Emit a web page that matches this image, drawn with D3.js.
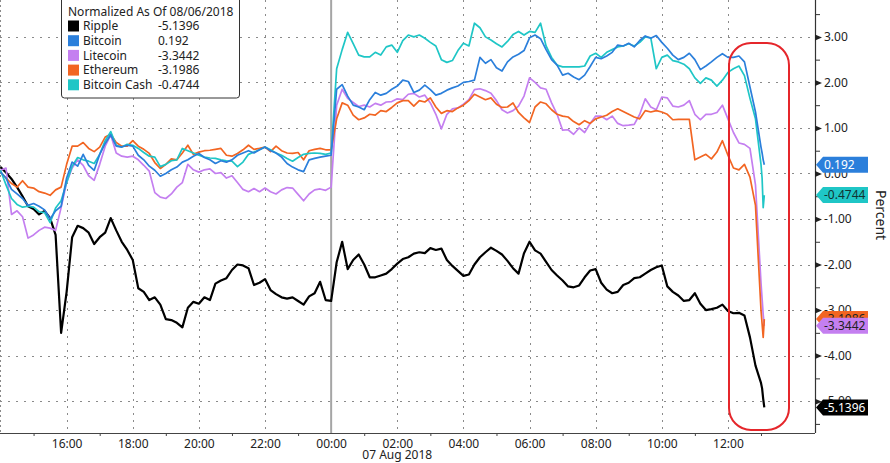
<!DOCTYPE html>
<html><head><meta charset="utf-8">
<script src="https://cdn.jsdelivr.net/npm/d3@7"></script>
<style>
body{margin:0;background:#fff;}
svg{display:block;font-family:"Noto Sans",sans-serif;}
</style></head><body>
<svg id="c" width="890" height="463"></svg>
<script>
// ---------- DATA ----------
const legendTitle = "Normalized As Of 08/06/2018";
const dateLabel = "07 Aug 2018";
const axisTitle = "Percent";
const seriesNames = ["Ripple", "Bitcoin", "Litecoin", "Ethereum", "Bitcoin Cash"];
const seriesColors = ["#000000", "#2b7fdb", "#c47ff0", "#f26522", "#1fc6c6"];
const flagTextColors = ["#ffffff", "#ffffff", "#222222", "#222222", "#123333"];
// 10-minute grid from 06 Aug 2018 14:00 through 07 Aug 2018 13:00, then final prints
const gridStart = "2018-08-06T14:00";
const gridStepMinutes = 10;
const tailTimes = ["2018-08-07T13:02", "2018-08-07T13:04", "2018-08-07T13:06"];
const xTickLabels = ["16:00","18:00","20:00","22:00","00:00","02:00","04:00","06:00","08:00","10:00","12:00"];
const yTickValues = [3, 2, 1, 0, -1, -2, -3, -4, -5];

const ripple = [
 0.14, 0.02, -0.12, -0.3, -0.5, -0.72, -0.78, -0.9, -0.82, -0.98,
 -1.35, -3.5, -2.6, -1.4, -1.15, -1.2, -1.3, -1.55, -1.4, -1.3,
 -0.98, -1.25, -1.5, -1.68, -1.9, -2.52, -2.6, -2.78, -2.72, -2.88,
 -3.2, -3.22, -3.28, -3.38, -2.95, -2.82, -2.86, -2.72, -2.78, -2.42,
 -2.35, -2.3, -2.12, -2.0, -2.02, -2.08, -2.45, -2.4, -2.32, -2.56,
 -2.65, -2.72, -2.75, -2.72, -2.8, -2.88, -2.7, -2.63, -2.38, -2.78,
 -2.8, -1.95, -1.5, -2.1, -1.9, -1.78, -2.0, -2.28, -2.28, -2.24,
 -2.2, -2.1, -1.98, -1.88, -1.84, -1.76, -1.73, -1.75, -1.64, -1.68,
 -1.65, -1.9, -2.03, -2.14, -2.25, -2.22, -2.0, -1.84, -1.73, -1.63,
 -1.7, -1.78, -1.92, -2.08, -2.2, -1.75, -1.5, -1.69, -1.76, -1.94,
 -2.12, -2.24, -2.35, -2.48, -2.5, -2.46, -2.28, -2.13, -2.1, -2.4,
 -2.55, -2.63, -2.6, -2.45, -2.4, -2.3, -2.28, -2.2, -2.12, -2.06,
 -2.02, -2.48, -2.6, -2.68, -2.8, -2.78, -2.63, -2.86, -3.0, -2.98,
 -2.95, -2.88, -3.02, -3.07, -3.06, -3.12, -3.6, -4.22, -4.6
];
const rippleTail = [-4.72, -4.95, -5.1396];

const bitcoin = [
 0.03, -0.1, -0.35, -0.45, -0.55, -0.7, -0.66, -0.72, -0.8, -1.0,
 -0.82, -0.72, -0.1, 0.25, 0.16, 0.42, 0.18, 0.07, 0.42, 0.66,
 0.85, 0.6, 0.58, 0.62, 0.6, 0.4, 0.3, 0.16, 0.07, -0.06,
 0.0, 0.08, 0.14, 0.25, 0.3, 0.38, 0.44, 0.35, 0.3, 0.22,
 0.28, 0.25, 0.3, 0.4, 0.45, 0.5, 0.45, 0.52, 0.58, 0.5,
 0.45, 0.36, 0.22, 0.14, 0.08, 0.04, 0.3, 0.33, 0.36, 0.38,
 0.4, 1.85, 1.95, 1.7, 1.5, 1.46, 1.4, 1.62, 1.78, 1.72,
 1.76, 1.85, 1.92, 2.05, 2.02, 1.78, 1.83, 1.94, 1.84, 1.72,
 1.76, 1.83, 1.88, 1.92, 2.0, 2.02, 2.05, 2.55, 2.42, 2.5,
 2.32, 2.25, 2.45, 2.56, 2.62, 2.7, 2.98, 3.04, 2.96, 2.72,
 2.5, 2.38, 2.16, 2.2, 2.12, 2.06, 2.16, 2.35, 2.55, 2.52,
 2.58, 2.66, 2.82, 2.8, 2.86, 2.78, 2.92, 3.02, 2.97, 3.03,
 2.88, 2.75, 2.6, 2.5, 2.55, 2.64, 2.5, 2.28, 2.36, 2.45,
 2.55, 2.63, 2.55, 2.55, 2.58, 2.45, 1.9, 1.35, 0.58
];
const bitcoinTail = [0.45, 0.3, 0.192];

const litecoin = [
 0.07, 0.12, -0.9, -0.82, -0.95, -1.42, -1.35, -1.25, -1.18, -1.2,
 -1.25, -0.75, -0.2, 0.12, 0.3, 0.18, -0.05, -0.15, 0.2, 0.6,
 0.85, 0.45, 0.38, 0.36, 0.38, 0.3, 0.18, 0.05, -0.42, -0.52,
 -0.55, -0.45, -0.3, -0.2, 0.2, 0.08, 0.03, 0.08, 0.1, 0.0,
 0.02, -0.1, -0.05, -0.2, -0.35, -0.4, -0.33, -0.4, -0.32, -0.4,
 -0.45, -0.36, -0.31, -0.32, -0.46, -0.6, -0.45, -0.36, -0.34, -0.37,
 -0.3, 1.5, 1.85, 1.65, 1.56, 1.47, 1.5, 1.46, 1.54, 1.5,
 1.57, 1.58, 1.64, 1.62, 1.74, 1.76, 1.68, 1.72, 1.55, 1.3,
 0.98, 1.3, 1.42, 1.44, 1.52, 1.62, 1.84, 1.86, 1.82, 1.76,
 1.6, 1.4, 1.33, 1.38, 1.48, 1.7, 2.1, 2.0, 1.88, 1.85,
 1.55, 1.3, 0.95, 0.96, 0.86, 1.0, 0.9, 1.1, 1.26, 1.26,
 1.18, 1.26, 1.1, 1.05, 1.06, 1.08, 1.3, 1.64, 1.46, 1.4,
 1.68, 1.66, 1.48, 1.46, 1.5, 1.6, 1.3, 1.18, 1.3, 1.3,
 1.34, 1.5, 1.2, 0.9, 0.67, 0.64, 0.55, -0.25, -2.4
];
const litecoinTail = [-2.75, -3.1, -3.3442];

const ethereum = [
 0.03, -0.1, -0.22, -0.3, -0.16, -0.3, -0.32, -0.4, -0.43, -0.48,
 -0.36, -0.3, 0.2, 0.6, 0.6, 0.68, 0.55, 0.48, 0.58, 0.8,
 0.86, 0.68, 0.6, 0.6, 0.72, 0.6, 0.53, 0.44, 0.24, 0.11,
 0.2, 0.32, 0.3, 0.45, 0.62, 0.42, 0.47, 0.5, 0.51, 0.53,
 0.55, 0.4, 0.38, 0.44, 0.52, 0.62, 0.53, 0.55, 0.58, 0.48,
 0.6, 0.5, 0.45, 0.44, 0.46, 0.3, 0.5, 0.53, 0.55, 0.52,
 0.52, 1.2, 1.55, 1.5, 1.28, 1.18, 1.22, 1.3, 1.28, 1.38,
 1.36, 1.45, 1.55, 1.6, 1.6, 1.48, 1.6, 1.57, 1.66, 1.46,
 1.32, 1.38, 1.36, 1.44, 1.5, 1.6, 1.74, 1.68, 1.62, 1.66,
 1.52, 1.45, 1.46, 1.55, 1.34, 1.22, 1.12, 1.46, 1.57, 1.53,
 1.4, 1.3, 1.26, 1.24, 1.14, 1.07, 1.16, 1.1, 1.2, 1.24,
 1.28, 1.36, 1.42, 1.36, 1.3, 1.24, 1.2, 1.38, 1.35, 1.38,
 1.35, 1.3, 1.18, 1.19, 1.19, 1.19, 0.3, 0.36, 0.42, 0.32,
 0.47, 0.72, 0.4, 0.12, 0.08, 0.2, -0.08, -0.7, -3.0
];
const ethereumTail = [-3.3, -3.6, -3.1986];

const bitcoinCash = [
 0.07, -0.25, -0.55, -0.68, -0.74, -0.72, -0.74, -0.84, -0.86, -1.08,
 -0.76, -0.6, -0.2, 0.16, 0.35, 0.3, 0.27, 0.22, 0.42, 0.72,
 0.92, 0.62, 0.58, 0.64, 0.62, 0.55, 0.46, 0.38, 0.36, 0.15,
 0.2, 0.28, 0.3, 0.55, 0.5, 0.45, 0.4, 0.36, 0.34, 0.33,
 0.3, 0.28, 0.27, 0.15, 0.25, 0.42, 0.47, 0.52, 0.58, 0.52,
 0.45, 0.4, 0.33, 0.27, 0.35, 0.42, 0.44, 0.45, 0.44, 0.42,
 0.45, 2.3, 2.72, 3.1, 2.85, 2.6, 2.56, 2.56, 2.66, 2.6,
 2.78, 2.82, 2.66, 2.92, 3.04, 3.0, 3.04, 2.97, 2.88, 2.8,
 2.5, 2.44, 2.48, 2.7, 2.86, 2.8, 3.3, 3.2, 3.0, 2.93,
 2.85, 2.78, 2.9, 3.05, 3.12, 3.04, 3.12, 3.1, 3.3, 2.8,
 2.55, 2.38, 2.34, 2.34, 2.34, 2.34, 2.36, 2.58, 2.64, 2.55,
 2.66, 2.72, 2.78, 2.8, 2.85, 2.8, 2.88, 3.0, 2.98, 2.3,
 2.55, 2.6, 2.48, 2.45, 2.4, 2.3, 2.1, 1.98, 2.1, 2.05,
 1.92, 2.05, 2.22, 2.3, 2.36, 2.15, 1.65, 1.2, 0.2
];
const bitcoinCashTail = [-0.1, -0.75, -0.4744];

// ---------- BUILD ----------
const seriesValues = [ripple, bitcoin, litecoin, ethereum, bitcoinCash];
const seriesTails = [rippleTail, bitcoinTail, litecoinTail, ethereumTail, bitcoinCashTail];
const parse = d3.timeParse("%Y-%m-%dT%H:%M");
const t0 = parse(gridStart);
const series = seriesNames.map((name, i) => {
  const pts = seriesValues[i].map((v, k) => ({t: d3.timeMinute.offset(t0, k * gridStepMinutes), v}));
  seriesTails[i].forEach((v, j) => pts.push({t: parse(tailTimes[j]), v}));
  return {name, color: seriesColors[i], textColor: flagTextColors[i], pts, last: pts[pts.length - 1].v};
});

const plotRight = 815, plotBottom = 433;
const svg = d3.select("#c");

const x = d3.scaleTime()
  .domain([parse("2018-08-06T14:00"), parse("2018-08-07T14:38")])
  .range([0.5, plotRight]);
const y = d3.scaleLinear().domain([-5.7, 3.81]).range([plotBottom, 0]);

const tickTime = s => { const [h, m] = s.split(":").map(Number); const d = new Date(t0); d.setHours(h, m); if (h < 14) d.setDate(d.getDate() + 1); return d; };
const xMajor = xTickLabels.map(tickTime);
const xMinor = d3.timeHour.range(parse("2018-08-06T15:00"), parse("2018-08-07T14:00"), 2);

// grid
const grid = svg.append("g");
grid.selectAll("line.h").data(yTickValues).join("line")
  .attr("x1", 0).attr("x2", plotRight)
  .attr("y1", d => Math.round(y(d)) + 0.5).attr("y2", d => Math.round(y(d)) + 0.5)
  .attr("stroke", "#8a8a8a").attr("stroke-width", 1).attr("stroke-dasharray", "2,6");
grid.selectAll("line.v").data(xMajor).join("line")
  .attr("x1", d => Math.round(x(d)) + 0.5).attr("x2", d => Math.round(x(d)) + 0.5)
  .attr("y1", 0).attr("y2", plotBottom)
  .attr("stroke", "#8a8a8a").attr("stroke-width", 1).attr("stroke-dasharray", "2,5");
grid.append("line").attr("x1", 0.5).attr("x2", 0.5).attr("y1", 0).attr("y2", plotBottom)
  .attr("stroke", "#8a8a8a").attr("stroke-dasharray", "2,3");
// midnight separator
const midnight = parse("2018-08-07T00:00");
svg.append("line").attr("x1", x(midnight)).attr("x2", x(midnight)).attr("y1", 0).attr("y2", plotBottom)
  .attr("stroke", "#a5a5a5").attr("stroke-width", 2);

// lines
const line = d3.line().x(d => x(d.t)).y(d => y(d.v));
const drawOrder = [0, 2, 3, 4, 1];
svg.append("g").selectAll("path").data(drawOrder.map(i => series[i])).join("path")
  .attr("d", d => line(d.pts)).attr("fill", "none")
  .attr("stroke", d => d.color)
  .attr("stroke-width", d => d.name === "Ripple" ? 2.2 : 1.7)
  .attr("stroke-linejoin", "round");

// x axis
const xAxis = svg.append("g").attr("transform", `translate(0,${plotBottom})`)
  .call(d3.axisBottom(x).tickValues(xMajor).tickFormat(d3.timeFormat("%H:%M")).tickSize(0).tickPadding(6));
xAxis.select(".domain").attr("d", `M0,0.5H${plotRight}`).attr("stroke", "#444").attr("stroke-width", 1.2);
xAxis.selectAll("text").attr("font-size", 12).attr("fill", "#222").attr("font-family", "Noto Sans");
svg.append("g").attr("transform", `translate(0,${plotBottom})`)
  .call(d3.axisBottom(x).tickValues(xMinor).tickFormat("").tickSize(3))
  .call(g => g.select(".domain").remove())
  .selectAll("line").attr("stroke", "#444");
svg.append("text").attr("x", x(parse("2018-08-07T02:00"))).attr("y", 458.5)
  .attr("text-anchor", "middle").attr("font-size", 12).attr("fill", "#222").text(dateLabel);

// y axis
const yAxis = svg.append("g").attr("transform", `translate(${plotRight},0)`)
  .call(d3.axisRight(y).tickValues(yTickValues).tickFormat(d => d.toFixed(2)).tickSize(0).tickPadding(9));
yAxis.select(".domain").attr("d", `M0.5,0V${plotBottom}`).attr("stroke", "#333").attr("stroke-width", 1.2);
yAxis.selectAll("text").attr("font-size", 12).attr("fill", "#222").attr("font-family", "Noto Sans");
yAxis.selectAll(".tick").append("path").attr("d", "M0,-3L7,0L0,3Z").attr("fill", "#222");
const yMinor = d3.range(-5.5, 3.6, 1);
svg.append("g").attr("transform", `translate(${plotRight},0)`)
  .call(d3.axisRight(y).tickValues(yMinor).tickFormat("").tickSize(5))
  .call(g => g.select(".domain").remove())
  .selectAll("line").attr("stroke", "#333");
svg.append("text").attr("transform", `translate(876,215) rotate(90)`)
  .attr("text-anchor", "middle").attr("font-size", 14).attr("fill", "#222").text(axisTitle);

// end-value flags
const flagOrder = [0, 1, 4, 3, 2];
const flags = svg.append("g").selectAll("g").data(flagOrder.map(i => series[i])).join("g")
  .attr("transform", d => `translate(${plotRight + 1},${y(d.last)})`);
flags.append("path").attr("d", "M0,0L7,-8H52V8H7Z").attr("fill", d => d.color);
flags.append("text").attr("x", 8).attr("dy", "0.35em").attr("font-size", 12)
  .attr("fill", d => d.textColor).text(d => String(d.last));

// red highlight
svg.append("rect").attr("x", 729).attr("y", 43).attr("width", 60).attr("height", 387)
  .attr("rx", 22).attr("fill", "none").attr("stroke", "#e5262b").attr("stroke-width", 2);

// legend
const lg = svg.append("g");
lg.append("rect").attr("x", 61.5).attr("y", -4).attr("width", 178).attr("height", 102)
  .attr("rx", 3).attr("fill", "#fff").attr("stroke", "#333").attr("stroke-width", 1);
lg.append("text").attr("x", 68).attr("y", 16).attr("font-size", 12).attr("fill", "#222").text(legendTitle);
const rows = lg.selectAll("g.r").data(series).join("g")
  .attr("transform", (d, i) => `translate(0,${26 + i * 14.7})`);
rows.append("rect").attr("x", 68).attr("y", -5.5).attr("width", 11).attr("height", 11).attr("fill", d => d.color);
rows.append("text").attr("x", 83).attr("dy", "0.35em").attr("font-size", 12).attr("fill", "#222").text(d => d.name);
rows.append("text").attr("x", 158).attr("dy", "0.35em").attr("font-size", 12).attr("fill", "#222").text(d => String(d.last));
</script>
</body></html>
